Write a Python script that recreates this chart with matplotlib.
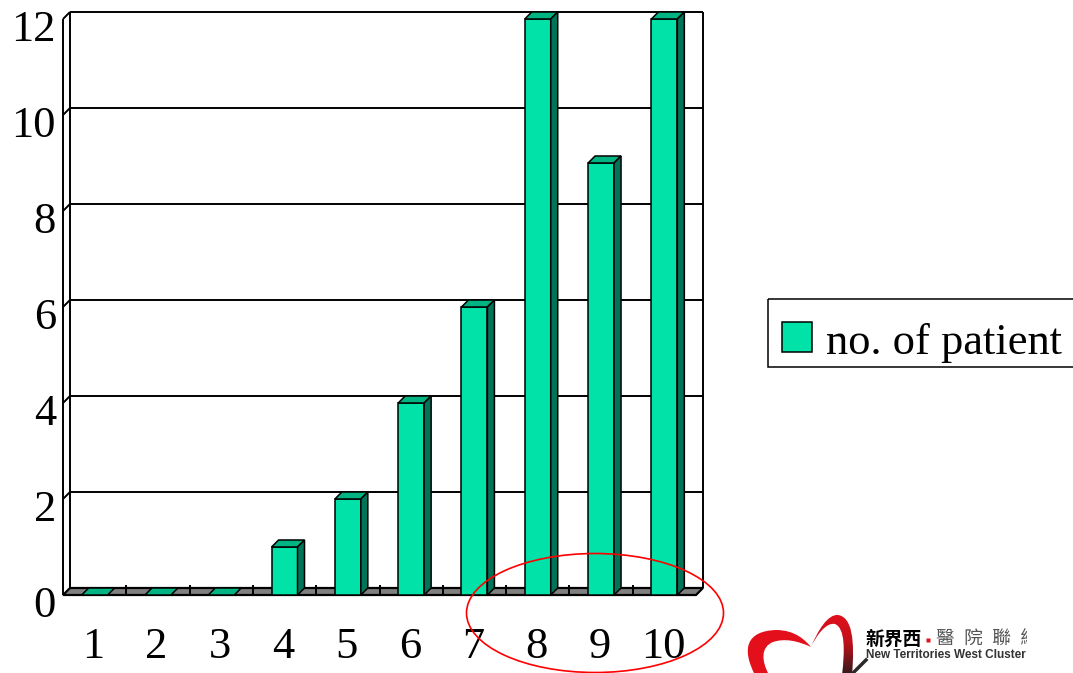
import numpy as np
import matplotlib.pyplot as plt
from matplotlib.colors import LinearSegmentedColormap
from matplotlib.patches import Polygon, Rectangle, Ellipse, PathPatch
from matplotlib.path import Path

categories = ['1', '2', '3', '4', '5', '6', '7', '8', '9', '10']
patients = [0, 0, 0, 1, 2, 4, 6, 12, 9, 12]
y_ticks = [0, 2, 4, 6, 8, 10, 12]
legend_label = 'no. of patient'

FRONT = '#00E2A8'
TOP = '#00B383'
SIDE = '#007458'
FLOOR = '#808080'
SERIF = 'Liberation Serif'

W, H = 1073, 673
fig = plt.figure(figsize=(W / 100, H / 100), dpi=100)

# main plot: front plane of the pseudo-3d box
ax = fig.add_axes([63 / W, 1 - 595 / H, 640 / W, 583 / H])
n = len(categories)
dx, dy = 7 / 63.3, 7 / 48.0   # depth offset in data units
bw = 0.41
x = np.arange(1, n + 1)
ymax = max(y_ticks)
ax.set_xlim(0.5, n + 0.5 + dx)
ax.set_ylim(0, ymax + dy)
ax.axis('off')

lk = dict(color='black', lw=1.4, clip_on=False, solid_capstyle='butt')
# back wall gridlines + right edge
for v in y_ticks[1:]:
    ax.plot([0.5 + dx, n + 0.5 + dx], [v + dy, v + dy], zorder=1, **lk)
ax.plot([n + 0.5 + dx] * 2, [dy, ymax + dy], zorder=1, **lk)
# left wall
ax.plot([0.5, 0.5], [0, ymax], zorder=1, **lk)
ax.plot([0.5 + dx] * 2, [dy, ymax + dy], zorder=1, **lk)
for v in y_ticks[1:]:
    ax.plot([0.5, 0.5 + dx], [v, v + dy], zorder=1, **lk)

# floor
ax.add_patch(Polygon([(0.5, 0), (n + 0.5, 0), (n + 0.5 + dx, dy), (0.5 + dx, dy)],
                     closed=True, fc=FLOOR, ec='black', lw=1.6, zorder=2, clip_on=False))
for k in range(1, n):
    ax.plot([0.5 + k] * 2, [0, dy * 1.4], zorder=2, **lk)

# bars: front faces, then tops and right sides
ax.bar(x, patients, width=bw, color=FRONT, edgecolor='black', lw=1.1, zorder=3, clip_on=False)
for c, v in zip(x, patients):
    l, r = c - bw / 2, c + bw / 2
    ax.add_patch(Polygon([(l, v), (r, v), (r + dx, v + dy), (l + dx, v + dy)],
                         closed=True, fc=TOP, ec='black', lw=1.1, zorder=3, clip_on=False))
    if v > 0:
        ax.add_patch(Polygon([(r, 0), (r + dx, dy), (r + dx, v + dy), (r, v)],
                             closed=True, fc=SIDE, ec='black', lw=1.1, zorder=3, clip_on=False))

# tick labels
for v in y_ticks:
    ax.annotate(str(v), xy=(0, v), xycoords=('axes fraction', 'data'),
                xytext=(-5, -16), textcoords='offset points',
                ha='right', va='baseline', fontsize=32, family=SERIF)
for c, lab in zip(x, categories):
    ax.annotate(lab, xy=(c, 0), xytext=(-1, -45), textcoords='offset points',
                ha='center', va='baseline', fontsize=32, family=SERIF)

# overlay in pixel coordinates for legend and highlight ring
ov = fig.add_axes([0, 0, 1, 1])
ov.set_xlim(0, W)
ov.set_ylim(H, 0)
ov.axis('off')
ov.add_patch(Rectangle((768, 299), 400, 68, fill=False, ec='black', lw=1.1))
ov.add_patch(Rectangle((782, 322), 30, 30, fc=FRONT, ec='black', lw=1.1))
ov.text(826, 354, legend_label, fontsize=32, family=SERIF, va='baseline')
ov.add_patch(Ellipse((595, 613), 257, 119, fill=False, ec='red', lw=1.2))

# cluster logo
lg = fig.add_axes([740 / W, 0, 287 / W, 73 / H])
lg.axis('off')
left_lobe = Path([(755, 675), (741, 648), (747, 631), (776, 630),
                  (795, 630), (805, 640), (811, 647),
                  (798, 641), (785, 638), (773, 642),
                  (761, 647), (761, 660), (769, 675), (755, 675)],
                 [Path.MOVETO] + [Path.CURVE4] * 12 + [Path.CLOSEPOLY])
right_lobe = Path([(811, 647), (818, 630), (828, 614), (838, 615),
                   (852, 617), (855, 640), (852, 675),
                   (842, 675),
                   (845, 650), (845, 628), (835, 624),
                   (826, 622), (816, 636), (811, 647)],
                  [Path.MOVETO] + [Path.CURVE4] * 6 + [Path.LINETO] + [Path.CURVE4] * 6)
lg.add_patch(PathPatch(left_lobe, fc='#E3101C', ec='none'))
rp = PathPatch(right_lobe, fc='none', ec='none')
lg.add_patch(rp)
grad = np.linspace(0, 1, 64).reshape(-1, 1)
heart_cmap = LinearSegmentedColormap.from_list('heart', ['#E3101C', '#C0101A', '#3A1A1A'])
im = lg.imshow(grad, extent=(805, 860, 673, 612), cmap=heart_cmap,
               aspect='auto', interpolation='bilinear')
im.set_clip_path(rp)
lg.plot([853, 866], [673, 660], color='#2A2A2A', lw=2.5)
lg.plot([928], [640], marker='s', ms=3, color='#E3101C', mec='none')
lg.set_xlim(740, 1027)
lg.set_ylim(673, 600)

cjk = ['Noto Sans CJK TC', 'DejaVu Sans']
lg.text(866, 645, '新界西', family=cjk, fontweight='bold', fontsize=13.5, va='baseline', clip_on=True)
lg.text(936, 645, '醫\u2002院\u2002聯\u2002網', family=cjk, fontsize=13.5, color='#555555',
        va='baseline', clip_on=True)
lg.text(866, 658, 'New Territories West Cluster', family='Liberation Sans', fontweight='bold',
        fontsize=8.5, color='#333333', va='baseline', clip_on=True)

fig.savefig('out.png', dpi=100)
